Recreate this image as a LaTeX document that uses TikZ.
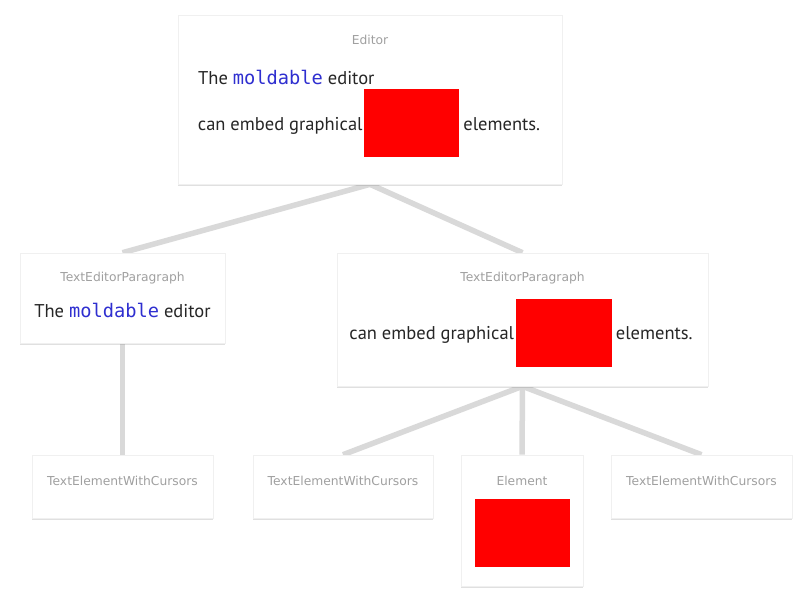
\documentclass[tikz,border=0pt]{standalone}
\usepackage{fontspec}
\setmainfont{PT Sans}
\newfontfamily\titlefont{DejaVu Sans}
\newfontfamily\codefont{DejaVu Sans Mono}
\usetikzlibrary{shadows}
\pgfdeclarelayer{bg}
\pgfdeclarelayer{background}
\pgfsetlayers{bg,background,main}
\definecolor{edgegray}{HTML}{D9D9D9}
\definecolor{titlegray}{HTML}{A0A0A0}
\definecolor{codeblue}{HTML}{2F2FD0}
\definecolor{bodytext}{HTML}{262626}
\tikzset{
  card/.style={draw=black!6, line width=0.6pt, fill=white, inner sep=0pt,
    drop shadow={shadow xshift=0pt, shadow yshift=-1.5pt, opacity=0.22, fill=black!55}},
  cardtitle/.style={font=\titlefont\fontsize{12.3}{14}\selectfont, text=titlegray, anchor=base, inner sep=0pt},
  bodyline/.style={font=\fontsize{18.5}{21}\selectfont, text=bodytext, inner sep=0pt, anchor=base west},
  redbox/.style={fill=red, draw=none},
  tree/.style={draw=edgegray, line width=5.5pt},
}
\newcommand{\mold}{{\codefont\fontsize{18.7}{21}\selectfont\color{codeblue}moldable}}
\begin{document}
\begin{tikzpicture}[x=1pt,y=-1pt]
\begin{pgfonlayer}{bg}
\fill[white] (0,0) rectangle (807,600);
\end{pgfonlayer}
\useasboundingbox (0,0) rectangle (807,600);
% cards
\node[card, minimum width=384pt, minimum height=169pt] (editor) at (370,99.5) {};
\node[card, minimum width=205pt, minimum height=90pt] (tep1) at (122.5,298) {};
\node[card, minimum width=371pt, minimum height=133pt] (tep2) at (522.5,319.5) {};
\node[card, minimum width=181pt, minimum height=63pt] (leaf1) at (122.5,486.5) {};
\node[card, minimum width=180pt, minimum height=63pt] (leaf2) at (343,486.5) {};
\node[card, minimum width=122pt, minimum height=131pt] (elem) at (522,520.5) {};
\node[card, minimum width=181pt, minimum height=63pt] (leaf4) at (701.5,486.5) {};
% connectors
\begin{pgfonlayer}{background}
\draw[tree] (editor.south) -- (tep1.north);
\draw[tree] (editor.south) -- (tep2.north);
\draw[tree] (tep1.south) -- (leaf1.north);
\draw[tree] (tep2.south) -- (leaf2.north);
\draw[tree] (tep2.south) -- (elem.north);
\draw[tree] (tep2.south) -- (leaf4.north);
\end{pgfonlayer}
% titles
\node[cardtitle] (t-editor) at (370,44) {Editor};
\node[cardtitle] (t-tep1) at (122.5,281.5) {TextEditorParagraph};
\node[cardtitle] (t-tep2) at (522.5,281.5) {TextEditorParagraph};
\node[cardtitle] (t-leaf1) at (122.5,485) {TextElementWithCursors};
\node[cardtitle] (t-leaf2) at (343,485) {TextElementWithCursors};
\node[cardtitle] (t-elem) at (522,485) {Element};
\node[cardtitle] (t-leaf4) at (701.5,485) {TextElementWithCursors};
% editor contents
\node[bodyline] (e1) at (198,84) {The \mold{} editor};
\node[redbox, minimum width=95pt, minimum height=68pt, inner sep=0pt] (er) at (411.5,123) {};
\node[bodyline, anchor=base east] (e2) at ([xshift=-1pt]er.west |- 0,130) {can embed graphical};
\node[bodyline] (e3) at ([xshift=4pt]er.east |- 0,130) {elements.};
% tep1 contents
\node[bodyline, anchor=base] (p1) at (122.5,317) {The \mold{} editor};
% tep2 contents
\node[redbox, minimum width=96pt, minimum height=68pt, inner sep=0pt] (pr) at (563.5,332.5) {};
\node[bodyline, anchor=base east] (p2) at ([xshift=-1pt]pr.west |- 0,339) {can embed graphical};
\node[bodyline] (p3) at ([xshift=4pt]pr.east |- 0,339) {elements.};
% element contents
\node[redbox, minimum width=95pt, minimum height=68pt, inner sep=0pt] (elr) at (522.5,532.5) {};
\end{tikzpicture}
\end{document}
